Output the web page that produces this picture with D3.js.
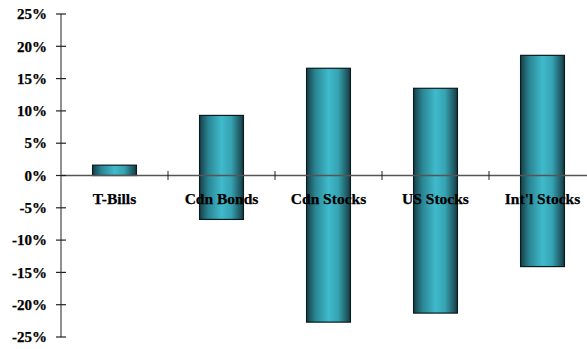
<!DOCTYPE html>
<html>
<head>
<meta charset="utf-8">
<script src="https://cdn.jsdelivr.net/npm/d3@7"></script>
<style>
  html, body { margin: 0; padding: 0; background: #fff; }
  svg { display: block; }
</style>
</head>
<body>
<svg id="chart" width="587" height="349"></svg>
<script>
// Range of annual returns by asset class (high / low, in %)
const categories = ["T-Bills", "Cdn Bonds", "Cdn Stocks", "US Stocks", "Int'l Stocks"];
const highValues = [1.6, 9.3, 16.6, 13.5, 18.6];
const lowValues  = [0.0, -6.8, -22.7, -21.3, -14.1];
const yTicks = [25, 20, 15, 10, 5, 0, -5, -10, -15, -20, -25];

const svg = d3.select("#chart");
const axisX = 61;

const x = d3.scaleBand()
  .domain(categories)
  .range([axisX, 596])
  .paddingInner(0.59)
  .paddingOuter(0.295);

const y = d3.scaleLinear()
  .domain([-25, 25])
  .range([337, 14]);

// Horizontal cylinder-style shading for the bars
const grad = svg.append("defs").append("linearGradient")
  .attr("id", "barShade")
  .attr("x1", "0%").attr("x2", "100%")
  .attr("y1", "0%").attr("y2", "0%");
[
  [0, "#163f47"],
  [0.2, "#2a8593"],
  [0.5, "#3fbacb"],
  [0.72, "#36a3b2"],
  [1, "#163c44"]
].forEach(([o, c]) => grad.append("stop").attr("offset", o).attr("stop-color", c));

const data = categories.map((c, i) => ({ cat: c, hi: highValues[i], lo: lowValues[i] }));

// Bars spanning low to high return
svg.append("g").selectAll("rect")
  .data(data)
  .join("rect")
  .attr("x", d => x(d.cat))
  .attr("width", x.bandwidth())
  .attr("y", d => y(d.hi))
  .attr("height", d => y(d.lo) - y(d.hi))
  .attr("fill", "url(#barShade)")
  .attr("stroke", "#0a1a1d")
  .attr("stroke-width", 1.2);

// Zero line with category separators
const zeroY = y(0);
svg.append("line")
  .attr("x1", axisX).attr("x2", 587)
  .attr("y1", zeroY).attr("y2", zeroY)
  .attr("stroke", "#555").attr("stroke-width", 1.3);

const seps = categories.slice(1).map(c => x(c) - x.step() * x.paddingInner() / 2);
svg.append("g").selectAll("line")
  .data(seps)
  .join("line")
  .attr("x1", d => d).attr("x2", d => d)
  .attr("y1", zeroY - 4.5).attr("y2", zeroY + 4.5)
  .attr("stroke", "#222").attr("stroke-width", 1);

// Vertical value axis
const yAxis = svg.append("g").attr("transform", `translate(${axisX},0)`);
yAxis.append("line")
  .attr("y1", y(25)).attr("y2", y(-25))
  .attr("stroke", "#555").attr("stroke-width", 1.3);
yAxis.selectAll("line.tick")
  .data(yTicks)
  .join("line")
  .attr("class", "tick")
  .attr("x1", -5).attr("x2", 5)
  .attr("y1", d => y(d)).attr("y2", d => y(d))
  .attr("stroke", "#222").attr("stroke-width", 1.2);
yAxis.selectAll("text")
  .data(yTicks)
  .join("text")
  .attr("x", -14)
  .attr("y", d => y(d))
  .attr("dy", "0.35em")
  .attr("text-anchor", "end")
  .attr("font-family", "'Liberation Serif', 'Times New Roman', serif")
  .attr("font-weight", "bold")
  .attr("font-size", 15)
  .attr("fill", "#000")
  .attr("stroke", "#000")
  .attr("stroke-width", 0.25)
  .text(d => d + "%");

// Category labels just under the zero line
svg.append("g").selectAll("text")
  .data(categories)
  .join("text")
  .attr("x", d => x(d) + x.bandwidth() / 2)
  .attr("y", zeroY + 23.5)
  .attr("dy", "0.35em")
  .attr("text-anchor", "middle")
  .attr("font-family", "'Liberation Serif', 'Times New Roman', serif")
  .attr("font-weight", "bold")
  .attr("font-size", 15.5)
  .attr("fill", "#000")
  .attr("stroke", "#000")
  .attr("stroke-width", 0.25)
  .text(d => d);
</script>
</body>
</html>
